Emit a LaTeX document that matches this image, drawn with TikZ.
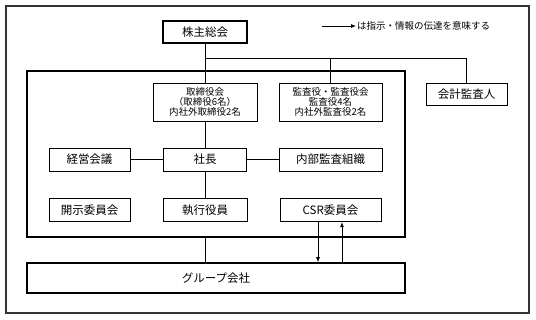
\documentclass[tikz,border=0pt]{standalone}
\usepackage{fontspec}
\setmainfont{Noto Sans CJK JP}
\usetikzlibrary{positioning,arrows.meta}
\definecolor{framegray}{RGB}{51,51,51}

\begin{document}
\begin{tikzpicture}[
    x=1pt, y=1pt,
    box/.style={
        draw=black,
        line width=0.8pt,
        minimum width=81pt,
        minimum height=23pt,
        inner sep=1pt,
        align=center,
        font=\fontsize{11.5}{13}\selectfont
    },
    bigbox/.style={
        box,
        minimum width=103pt,
        minimum height=38pt,
        font=\fontsize{9.5}{10}\selectfont
    },
    thickbox/.style={
        box,
        line width=1.6pt
    },
    link/.style={
        line width=0.8pt
    },
    arr/.style={
        -{Latex[length=5pt,width=4pt]},
        line width=0.7pt
    }
]
\useasboundingbox (0,0) rectangle (536,320);
\draw[framegray, line width=1.3pt] (6,7) rectangle (529,314);

\node[thickbox, minimum width=84pt, minimum height=22pt] (meeting) at (205,288) {株主総会};

\node[anchor=west, inner sep=1pt, font=\fontsize{9.5}{11}\selectfont] (legend) at (356,294) {は指示・情報の伝達を意味する};
\coordinate (legendtail) at (322,294);

\node[thickbox, minimum width=378pt, minimum height=166pt] (company) at (216,166) {};

\node[bigbox, minimum width=104pt] (board) at (205,218) {
    取締役会\\
    （取締役6名）\\
    内社外取締役2名
};

\node[bigbox] (auditors) at (330.5,218) {
    監査役・監査役会\\
    監査役4名\\
    内社外監査役2名
};

\node[box, minimum height=22pt] (accountant) at (466.5,226) {会計監査人};

\node[box] (mgmt) at (89.5,160.5) {経営会議};
\node[box, minimum width=83pt] (president) at (205,160.5) {社長};
\node[box, minimum width=103pt] (internal) at (330.5,160.5) {内部監査組織};

\node[box, below=27pt of mgmt] (disclosure) {開示委員会};
\node[box, minimum width=84pt, below=27pt of president] (officers) {執行役員};
\node[box, minimum width=101pt, below=27pt of internal] (csr) {CSR委員会};

\node[thickbox, minimum width=378pt, minimum height=30pt] (group) at (216,42) {グループ会社};

\coordinate (branch) at (meeting.south |- 0,262);
\coordinate (branchend) at (accountant.north |- branch);

\draw[link] (meeting) -- (branch) -- (branchend) -- (accountant);
\draw[link] (branch) -- (board);
\draw[link] (auditors.north |- branch) -- (auditors);
\draw[link] (board) -- (president);
\draw[link] (president) -- (officers);
\draw[link] (mgmt) -- (president);
\draw[link] (president) -- (internal);
\draw[link] (company.south -| officers) -- (group.north -| officers);
\draw[arr] ([xshift=-12.5pt]csr.south) -- ([xshift=-12.5pt]csr.south |- group.north);
\draw[arr] ([xshift=11.5pt]csr.south |- group.north) -- ([xshift=11.5pt]csr.south);
\draw[arr] (legendtail) -- (legend.west);

\end{tikzpicture}
\end{document}
